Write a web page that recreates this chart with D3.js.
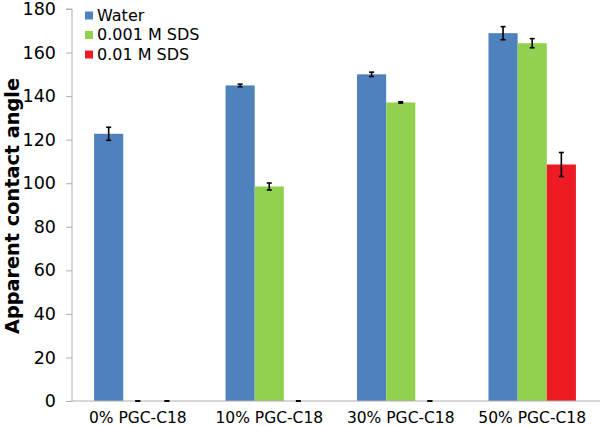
<!DOCTYPE html>
<html>
<head>
<meta charset="utf-8">
<script src="https://cdn.jsdelivr.net/npm/d3@7"></script>
<style>
  body { margin: 0; background: #fff; }
  text { font-family: "DejaVu Sans", Verdana, sans-serif; fill: #000; }
</style>
</head>
<body>
<script>
// chart data
const categories = ["0% PGC-C18", "10% PGC-C18", "30% PGC-C18", "50% PGC-C18"];
const seriesNames = ["Water", "0.001 M SDS", "0.01 M SDS"];
const waterValues = [122.7, 144.9, 150.0, 168.9];
const waterErrors = [3.0, 0.6, 1.0, 3.0];
const sds001Values = [0, 98.5, 137.1, 164.3];
const sds001Errors = [0, 1.6, 0.3, 2.1];
const sds01Values = [0, 0, 0, 108.6];
const sds01Errors = [0, 0, 0, 5.5];
const yTicks = [0, 20, 40, 60, 80, 100, 120, 140, 160, 180];
const colors = ["#4f81bd", "#92d050", "#ed1c24"];

const values = [waterValues, sds001Values, sds01Values];
const errors = [waterErrors, sds001Errors, sds01Errors];

const width = 600, height = 426;
const margin = {top: 9, right: 0, bottom: 25, left: 72};

const svg = d3.select("body").append("svg")
    .attr("width", width)
    .attr("height", height);

const x = d3.scaleBand()
    .domain(categories)
    .range([margin.left, width - 2])
    .paddingInner(0.335)
    .paddingOuter(0.168);

const x1 = d3.scaleBand()
    .domain(seriesNames)
    .range([0, x.bandwidth()]);

const y = d3.scaleLinear()
    .domain([0, 180])
    .range([height - margin.bottom, margin.top]);

// y axis
const yAxis = svg.append("g")
    .attr("transform", "translate(" + margin.left + ",0)")
    .call(d3.axisLeft(y).tickValues(yTicks).tickSize(6).tickPadding(10));
yAxis.selectAll("text").style("font-size", "17.5px");
yAxis.selectAll("line, path").attr("stroke", "#b0b0b0");
yAxis.select(".domain").attr("d", "M-6," + y(180) + "H0V" + y(0));

// bars
const rows = [];
seriesNames.forEach((s, i) => {
  categories.forEach((c, j) => {
    rows.push({series: s, cat: c, v: values[i][j], e: errors[i][j], color: colors[i]});
  });
});

svg.append("g").selectAll("rect")
  .data(rows.filter(d => d.v > 0))
  .join("rect")
    .attr("x", d => x(d.cat) + x1(d.series))
    .attr("y", d => y(d.v))
    .attr("width", x1.bandwidth())
    .attr("height", d => y(0) - y(d.v))
    .attr("fill", d => d.color);

// x axis
const xAxis = svg.append("g")
    .attr("transform", "translate(0," + y(0) + ")")
    .call(d3.axisBottom(x).tickSize(0).tickPadding(11));
xAxis.select(".domain").attr("stroke", "#b0b0b0").attr("d", "M" + margin.left + ",0H" + width);
xAxis.selectAll("text").style("font-size", "15.5px").attr("dy", "0.71em");

// error bars
const eb = svg.append("g").attr("stroke", "#000").attr("stroke-width", 1.6);
rows.forEach(d => {
  const cx = x(d.cat) + x1(d.series) + x1.bandwidth() / 2;
  const y1 = y(d.v + d.e), y2 = y(Math.max(0, d.v - d.e));
  eb.append("line").attr("x1", cx).attr("x2", cx).attr("y1", y1).attr("y2", y2);
  eb.append("line").attr("x1", cx - 2.5).attr("x2", cx + 2.5).attr("y1", y1).attr("y2", y1);
  eb.append("line").attr("x1", cx - 2.5).attr("x2", cx + 2.5).attr("y1", y2).attr("y2", y2);
});

// y axis title
svg.append("text")
    .attr("transform", "translate(12,206) rotate(-90)")
    .attr("text-anchor", "middle")
    .attr("dominant-baseline", "central")
    .style("font-size", "19.3px")
    .style("font-weight", "bold")
    .text("Apparent contact angle");

// legend
const legend = svg.append("g").attr("transform", "translate(85,15)");
seriesNames.forEach((s, i) => {
  const g = legend.append("g").attr("transform", "translate(0," + i * 19.5 + ")");
  g.append("rect").attr("x", 0).attr("y", -3.5).attr("width", 8).attr("height", 8).attr("fill", colors[i]);
  g.append("text").attr("x", 12).attr("y", 0).attr("dominant-baseline", "central")
    .style("font-size", "16px").text(s);
});
</script>
</body>
</html>
